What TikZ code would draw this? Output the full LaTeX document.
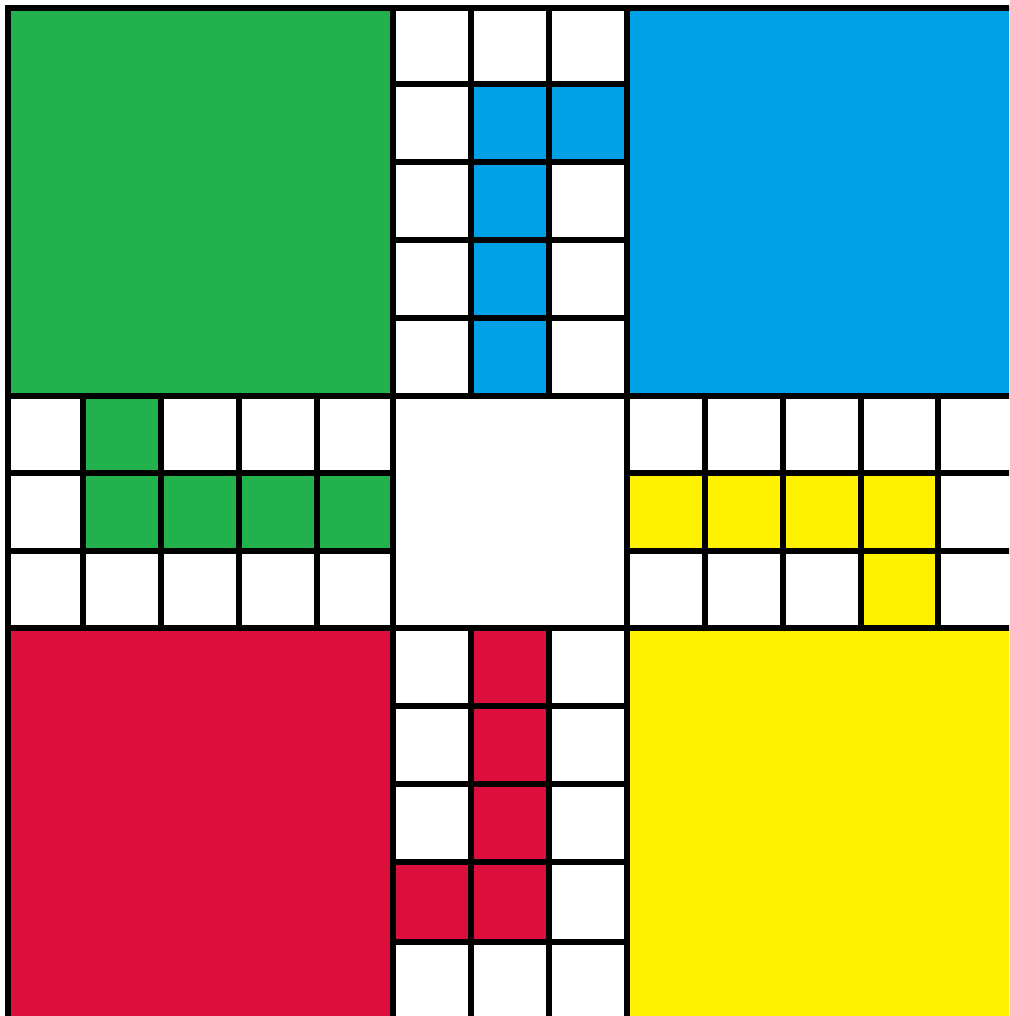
\documentclass[tikz,border=0pt]{standalone}
\usepackage{xcolor}
\definecolor{lgreen}{HTML}{22B14C}
\definecolor{lblue}{HTML}{00A0E6}
\definecolor{lred}{HTML}{DC0E3C}
\definecolor{lyellow}{HTML}{FFF200}
\tikzset{gridline/.style={black,line width=5.5pt,line cap=rect}}
\begin{document}
\begin{tikzpicture}[x=1pt,y=-1pt]
\useasboundingbox (0,0) rectangle (1009,1016);
\clip (0,0) rectangle (1009,1016);
\fill[white] (0,0) rectangle (1009,1016);
% home quadrants
\fill[lgreen] (8,8) rectangle (393,396);
\fill[lblue] (627,8) rectangle (1030,396);
\fill[lred] (8,628) rectangle (393,1030);
\fill[lyellow] (627,628) rectangle (1030,1030);
% top arm (blue)
\fill[lblue] (471,84) rectangle (549,396);
\fill[lblue] (549,84) rectangle (627,162);
% left arm (green)
\fill[lgreen] (83,396) rectangle (161,473);
\fill[lgreen] (83,473) rectangle (393,551);
% right arm (yellow)
\fill[lyellow] (627,473) rectangle (938,551);
\fill[lyellow] (861,551) rectangle (938,628);
% bottom arm (red)
\fill[lred] (471,628) rectangle (549,942);
\fill[lred] (393,862) rectangle (471,942);
% full lines
\foreach \x in {8,393,627} \draw[gridline] (\x,8) -- (\x,1030);
\foreach \y in {8,396,628} \draw[gridline] (8,\y) -- (1030,\y);
% arm column lines
\foreach \x in {83,161,239,317,705,783,861,938} \draw[gridline] (\x,396) -- (\x,628);
\foreach \x in {471,549} {\draw[gridline] (\x,8) -- (\x,396); \draw[gridline] (\x,628) -- (\x,1030);}
% arm row lines
\foreach \y in {84,162,240,318,706,784,862,942} \draw[gridline] (393,\y) -- (627,\y);
\foreach \y in {473,551} {\draw[gridline] (8,\y) -- (393,\y); \draw[gridline] (627,\y) -- (1030,\y);}
\end{tikzpicture}
\end{document}
